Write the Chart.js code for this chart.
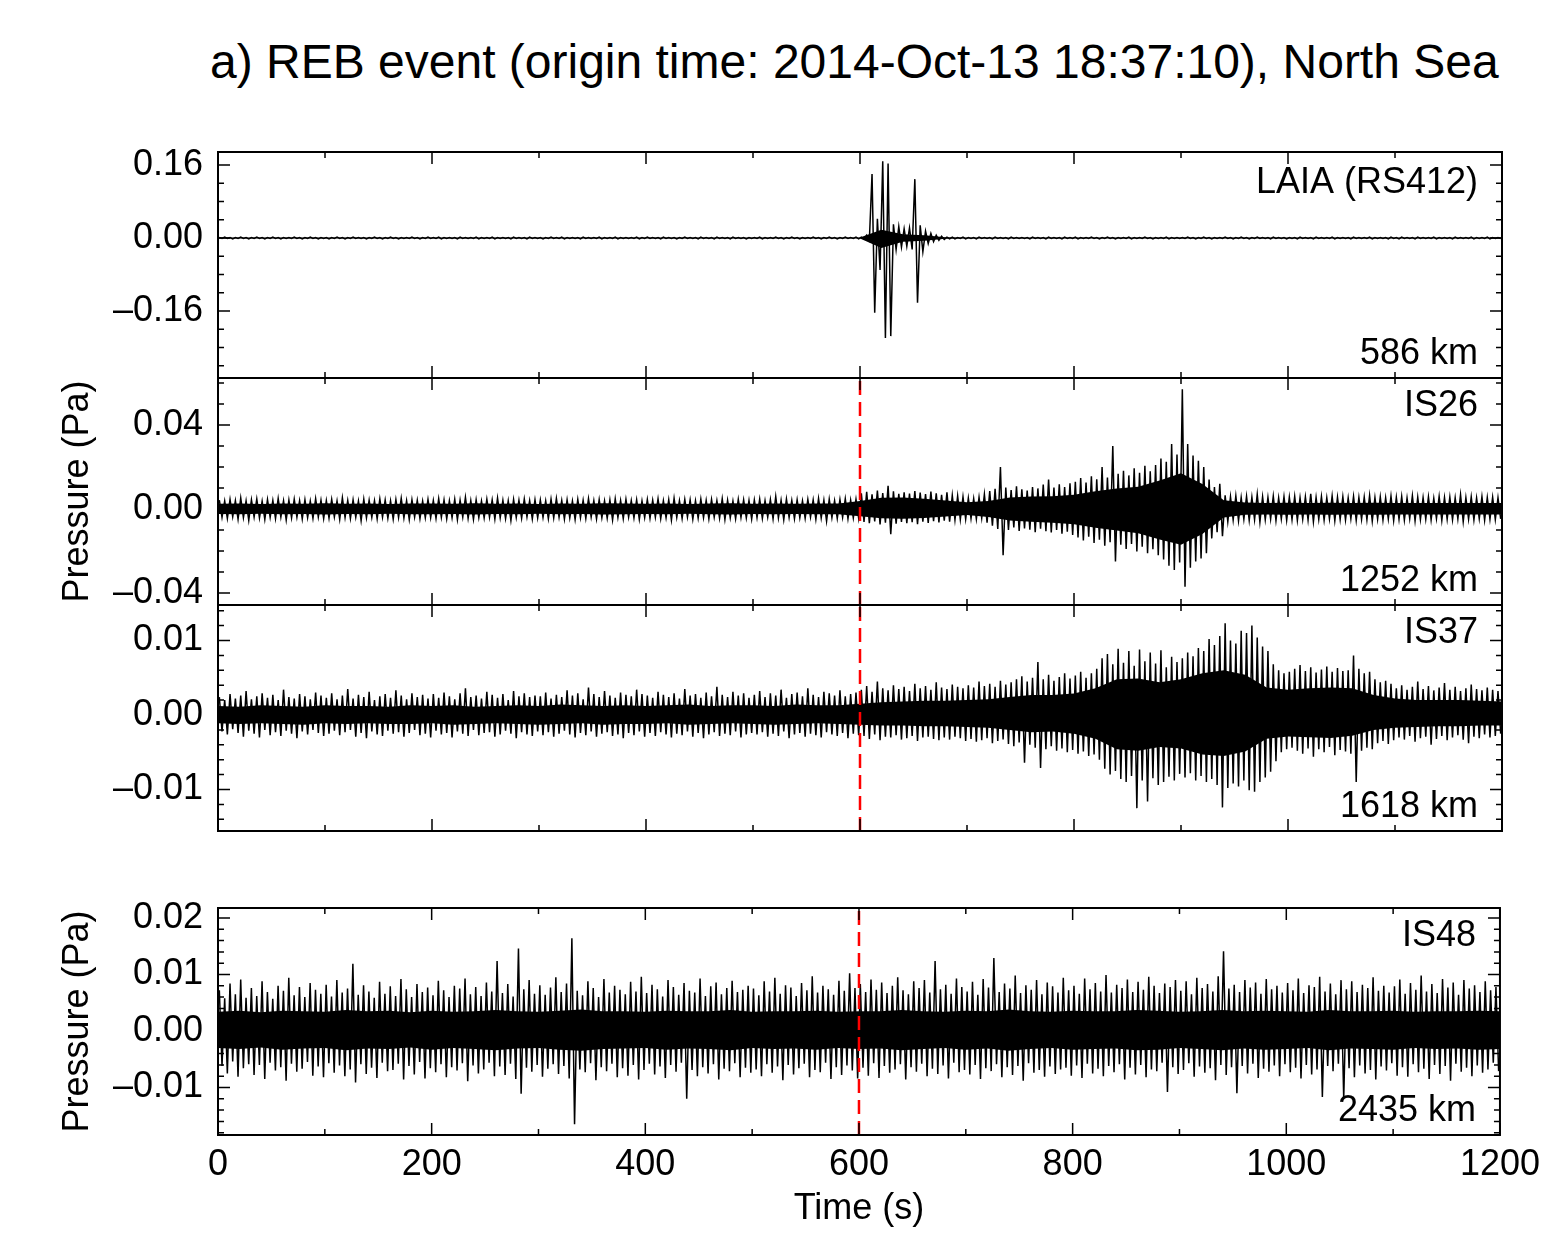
<!DOCTYPE html>
<html>
<head>
<meta charset="utf-8">
<script src="https://cdn.jsdelivr.net/npm/chart.js@4.4.1/dist/chart.umd.min.js"></script>
<style>
  html, body { margin: 0; padding: 0; background: #fff; }
  #wrap { position: relative; width: 1548px; height: 1235px; overflow: hidden; }
  #wrap canvas { position: absolute; left: 0; top: 0; }
  #title {
    position: absolute; top: 38px; left: 210px; width: 1288px;
    text-align: center; white-space: nowrap; color: #000;
    font: 48px/1 "Liberation Sans", Arial, Helvetica, sans-serif;
  }
</style>
</head>
<body>
<div id="wrap">
  <div id="title">a) REB event (origin time: 2014-Oct-13 18:37:10), North Sea</div>
  <canvas id="p0" width="1548" height="1235"></canvas>
  <canvas id="p1" width="1548" height="1235"></canvas>
  <canvas id="p2" width="1548" height="1235"></canvas>
  <canvas id="p3" width="1548" height="1235"></canvas>
</div>
<script>
// Waveform envelopes, in mPa.
// *Hi / *Lo: largest up / down excursion in each 5 s bin (0-5 s, 5-10 s, ...)
// *CoreHi / *CoreLo: edge of the solid black band, every 20 s (0, 20, ... 1200 s)
const binSeconds = 5;
const coreSeconds = 20;
const originTime = 600;   // red dashed line
const timeTicks = [0, 200, 400, 600, 800, 1000, 1200];

const stations = ['LAIA (RS412)', 'IS26', 'IS37', 'IS48'];
const distances = ['586 km', '1252 km', '1618 km', '2435 km'];
const yTickValues = [[-0.16, 0, 0.16], [-0.04, 0, 0.04], [-0.01, 0, 0.01], [-0.01, 0, 0.01, 0.02]];
const yMinorSteps = [0.04, 0.01, 0.002, 0.002];
const yRanges = [[-0.3068, 0.1885], [-0.04571, 0.06238], [-0.01557, 0.014765], [-0.01841, 0.02177]];

const laiaHi = [
  1,2,1,1,2,1,1,2,1,1,2,1,1,1,2,1,1,2,1,1,
  1,1,2,1,1,2,1,1,1,2,1,1,2,1,1,1,2,1,1,2,
  1,2,1,1,1,2,1,1,2,1,1,2,1,1,1,2,1,1,2,1,
  1,1,2,1,2,1,1,1,2,1,1,2,1,1,2,1,1,1,2,1,
  2,1,1,2,1,1,1,2,1,1,2,1,1,2,1,1,2,1,1,1,
  1,2,1,1,2,1,1,2,1,1,1,2,1,1,2,1,1,2,1,2,
  2,6,140,42,168,163,30,25,20,22,129,28,15,10,6,4,2,2,1,2,
  1,1,2,1,1,2,1,1,2,1,1,1,2,1,1,2,1,1,2,1,
  2,1,1,2,1,1,2,1,1,1,2,1,1,2,1,1,1,2,1,1,
  1,2,1,1,2,1,1,1,2,1,1,2,1,1,2,1,1,2,1,1,
  1,1,2,1,1,2,1,1,2,1,1,1,2,1,1,2,1,1,1,2,
  1,2,1,1,2,1,1,2,1,1,1,2,1,1,2,1,1,2,1,1
];
const laiaLo = [
  -1,-1,-2,-1,-1,-2,-1,-1,-2,-1,-1,-2,-1,-1,-1,-2,-1,-1,-2,-1,
  -2,-1,-1,-2,-1,-1,-1,-2,-1,-1,-2,-1,-1,-2,-1,-1,-1,-2,-1,-1,
  -1,-2,-1,-1,-2,-1,-1,-1,-2,-1,-1,-2,-1,-1,-2,-1,-1,-2,-1,-1,
  -2,-1,-1,-1,-2,-1,-1,-2,-1,-1,-1,-2,-1,-1,-2,-1,-1,-1,-2,-1,
  -1,-1,-2,-1,-1,-2,-1,-1,-1,-2,-1,-1,-2,-1,-1,-2,-1,-1,-2,-1,
  -1,-2,-1,-1,-1,-2,-1,-1,-2,-1,-1,-1,-2,-1,-1,-2,-1,-1,-1,-2,
  -2,-5,-164,-70,-219,-215,-25,-20,-18,-25,-142,-30,-12,-8,-5,-3,-2,-2,-1,-2,
  -1,-2,-1,-1,-2,-1,-1,-2,-1,-1,-1,-2,-1,-1,-2,-1,-1,-2,-1,-1,
  -2,-1,-1,-1,-2,-1,-1,-2,-1,-1,-2,-1,-1,-1,-2,-1,-1,-2,-1,-1,
  -1,-1,-2,-1,-1,-2,-1,-1,-1,-2,-1,-1,-2,-1,-1,-1,-2,-1,-1,-2,
  -1,-2,-1,-1,-2,-1,-1,-1,-2,-1,-1,-2,-1,-1,-1,-2,-1,-1,-2,-1,
  -2,-1,-1,-2,-1,-1,-1,-2,-1,-1,-2,-1,-1,-1,-2,-1,-1,-2,-1,-1
];
const laiaCoreHi = [
  1.0,1.0,1.0,1.0,1.0,1.0,1.0,1.0,1.0,1.0,
  1.0,1.0,1.0,1.0,1.0,1.0,1.0,1.0,1.0,1.0,
  1.0,1.0,1.0,1.0,1.0,1.0,1.0,1.0,1.0,1.0,
  1.0,18,8,6,1.5,1.0,1.0,1.0,1.0,1.0,
  1.0,1.0,1.0,1.0,1.0,1.0,1.0,1.0,1.0,1.0,
  1.0,1.0,1.0,1.0,1.0,1.0,1.0,1.0,1.0,1.0,
  1.0
];
const laiaCoreLo = [
  -1.0,-1.0,-1.0,-1.0,-1.0,-1.0,-1.0,-1.0,-1.0,-1.0,
  -1.0,-1.0,-1.0,-1.0,-1.0,-1.0,-1.0,-1.0,-1.0,-1.0,
  -1.0,-1.0,-1.0,-1.0,-1.0,-1.0,-1.0,-1.0,-1.0,-1.0,
  -1.0,-22,-8,-6,-1.5,-1.0,-1.0,-1.0,-1.0,-1.0,
  -1.0,-1.0,-1.0,-1.0,-1.0,-1.0,-1.0,-1.0,-1.0,-1.0,
  -1.0,-1.0,-1.0,-1.0,-1.0,-1.0,-1.0,-1.0,-1.0,-1.0,
  -1.0
];

const is26Hi = [
  4.2,3.8,4.6,4.0,5.2,3.9,4.4,4.8,3.7,4.5,4.1,5.0,3.9,4.3,4.7,4.0,4.4,3.8,4.9,4.2,
  4.0,4.6,3.9,5.3,4.1,4.4,3.8,4.7,4.2,4.0,4.8,4.3,3.9,4.5,5.1,4.0,4.4,4.2,3.8,4.6,
  4.1,4.9,4.3,3.9,4.6,4.2,5.6,4.0,4.4,3.8,4.7,4.3,5.2,4.1,3.9,4.5,4.2,4.8,4.0,4.4,
  4.3,3.9,4.7,5.0,4.1,4.4,3.8,4.6,4.2,4.9,4.0,4.5,3.9,4.3,4.8,4.1,4.6,4.0,4.4,3.8,
  4.5,4.2,4.8,3.9,4.4,5.1,4.0,4.6,4.3,3.9,4.7,4.1,4.5,4.0,4.9,4.2,3.8,4.6,4.4,4.1,
  4.3,4.7,4.0,4.5,6.0,4.2,4.8,4.1,4.4,3.9,4.6,4.3,5.0,4.2,4.7,4.0,4.5,4.9,4.2,4.6,
  7.5,8.2,7.0,8.8,7.6,11.0,8.4,7.2,8.0,7.4,8.6,7.8,7.1,8.3,7.5,6.8,7.9,6.5,6.2,5.8,
  5.2,4.9,5.6,7.0,8.5,9.6,20.0,10.2,9.0,10.8,9.4,8.8,10.5,9.8,11.6,14.0,10.2,11.8,10.4,12.2,
  13.0,14.8,12.6,15.6,14.2,20.0,15.0,30.0,16.8,18.2,16.0,19.4,17.2,20.6,18.0,21.0,24.0,22.5,31.0,26.0,
  57.0,31.0,25.5,23.0,20.0,14.0,10.5,12.0,6.5,5.8,6.2,5.4,6.0,5.6,7.0,5.8,5.5,6.1,5.3,5.9,
  5.6,6.0,5.4,5.8,7.2,5.5,5.9,5.3,6.2,5.6,5.8,5.2,6.0,5.5,5.7,6.4,5.4,5.8,5.3,6.1,
  5.5,5.9,5.2,6.3,5.6,5.4,5.8,5.1,6.0,5.5,5.7,5.3,6.8,5.4,5.8,5.2,5.9,5.5,5.6,5.3
];
const is26Lo = [
  -3.9,-4.5,-3.7,-4.8,-4.1,-5.4,-3.8,-4.3,-4.9,-4.0,-4.6,-3.8,-5.2,-4.2,-3.9,-4.7,-4.1,-4.4,-3.8,-4.6,
  -4.3,-3.8,-4.9,-4.1,-4.5,-3.9,-5.6,-4.2,-4.0,-4.7,-3.9,-4.4,-4.8,-4.0,-4.3,-5.0,-3.9,-4.6,-4.2,-4.1,
  -4.5,-4.0,-4.7,-4.2,-5.1,-3.8,-4.4,-4.9,-4.1,-4.3,-3.9,-4.8,-4.2,-4.6,-5.5,-4.0,-4.4,-3.8,-4.7,-4.2,
  -4.0,-4.6,-4.2,-3.9,-4.8,-4.3,-5.0,-4.1,-4.5,-3.8,-4.7,-4.2,-4.4,-5.2,-4.0,-4.6,-3.9,-4.3,-4.9,-4.1,
  -4.4,-3.9,-4.6,-4.2,-5.3,-4.0,-4.5,-3.8,-4.8,-4.3,-4.1,-4.7,-3.9,-4.4,-5.0,-4.2,-4.6,-4.0,-4.3,-4.8,
  -4.1,-4.5,-3.9,-4.7,-4.3,-5.1,-4.0,-4.6,-4.2,-4.4,-3.8,-4.9,-4.3,-5.8,-4.1,-4.5,-4.0,-4.7,-4.2,-4.4,
  -6.2,-6.8,-5.9,-7.4,-6.5,-12.0,-7.0,-6.1,-6.7,-6.3,-7.2,-6.0,-6.6,-5.8,-6.4,-5.5,-6.0,-5.2,-5.0,-4.8,
  -4.5,-4.8,-4.3,-6.5,-8.0,-9.5,-22.0,-10.0,-8.8,-10.5,-9.2,-9.8,-11.0,-9.4,-10.6,-11.2,-10.0,-11.8,-10.8,-12.4,
  -13.5,-15.0,-13.2,-16.2,-14.6,-17.5,-15.8,-25.0,-17.0,-19.0,-16.6,-20.2,-18.0,-21.0,-19.2,-22.0,-24.0,-27.0,-29.0,-25.5,
  -37.0,-28.0,-25.0,-23.5,-21.0,-14.0,-11.0,-13.0,-6.0,-5.2,-5.6,-4.9,-5.4,-5.0,-6.2,-5.1,-4.8,-5.5,-4.7,-5.3,
  -5.0,-5.4,-4.8,-5.2,-6.0,-4.9,-5.3,-4.7,-5.6,-5.0,-5.2,-4.6,-5.4,-4.9,-5.1,-5.8,-4.8,-5.2,-4.7,-5.5,
  -4.9,-5.3,-4.6,-5.7,-5.0,-4.8,-5.2,-4.5,-5.4,-4.9,-5.1,-4.7,-6.0,-4.8,-5.2,-4.6,-5.3,-4.9,-5.0,-4.7
];
const is26CoreHi = [
  2.5,2.6,2.4,2.6,2.5,2.7,2.5,2.6,2.4,2.6,
  2.6,2.5,2.7,2.5,2.6,2.4,2.6,2.5,2.7,2.6,
  2.5,2.6,2.4,2.6,2.7,2.5,2.6,2.5,2.6,2.6,
  3.8,5.3,5.5,4.9,4.1,3.2,3.8,5.5,6.0,6.1,
  6.8,8.5,9.8,10.6,13.6,17.0,11.9,4.2,3.1,2.9,
  3.0,2.9,3.0,2.8,3.0,2.9,2.8,2.9,2.8,2.9,
  2.8
];
const is26CoreLo = [
  -2.4,-2.5,-2.3,-2.5,-2.4,-2.6,-2.4,-2.5,-2.3,-2.5,
  -2.5,-2.4,-2.6,-2.4,-2.5,-2.3,-2.5,-2.4,-2.6,-2.5,
  -2.4,-2.5,-2.3,-2.5,-2.6,-2.4,-2.5,-2.4,-2.5,-2.5,
  -3.4,-4.4,-4.7,-4.3,-3.6,-2.9,-3.8,-5.5,-6.1,-6.5,
  -7.2,-8.9,-10.2,-11.5,-14.5,-17.0,-11.9,-4.1,-2.7,-2.6,
  -2.7,-2.6,-2.7,-2.6,-2.7,-2.6,-2.6,-2.6,-2.6,-2.6,
  -2.6
];

const is37Hi = [
  2.4,2.0,2.8,2.2,2.6,3.2,2.1,2.5,2.9,2.3,2.7,2.0,3.4,2.4,2.2,2.8,2.5,2.1,3.0,2.6,
  2.3,2.9,2.1,2.6,3.5,2.2,2.7,2.4,3.1,2.0,2.5,2.8,2.3,3.3,2.6,2.1,2.9,2.4,2.7,2.2,
  2.8,2.3,3.0,2.5,2.1,2.9,3.6,2.4,2.6,2.2,3.1,2.7,2.3,2.8,2.0,3.2,2.5,2.9,2.4,2.6,
  2.5,3.0,2.2,2.7,2.4,3.3,2.6,2.9,2.1,3.7,2.8,2.4,3.2,2.6,2.3,3.0,2.7,2.5,3.4,2.8,
  2.6,2.3,3.1,2.7,2.4,2.9,2.2,3.5,2.6,2.8,2.3,3.0,2.5,3.8,2.7,2.4,3.1,2.6,2.9,2.3,
  2.7,3.2,2.4,2.9,2.6,3.4,2.3,2.8,3.0,2.5,3.6,2.7,2.4,3.1,2.9,2.6,3.3,2.5,2.8,3.0,
  3.4,3.9,3.1,4.5,3.6,3.3,4.0,3.5,3.8,3.2,4.2,3.6,3.9,3.4,4.4,3.7,3.5,4.1,3.8,3.6,
  4.0,3.7,4.5,3.9,4.2,3.8,4.6,4.1,4.4,4.8,5.2,4.5,5.0,7.1,4.8,5.4,4.6,5.1,5.6,4.9,
  5.3,5.8,5.0,5.6,6.2,7.6,8.2,6.8,8.9,7.0,8.6,6.6,8.8,7.2,8.4,6.9,8.7,6.4,7.8,7.1,
  7.6,8.4,7.9,9.0,8.6,10.2,9.4,10.6,12.3,10.0,9.6,11.3,11.0,12.0,10.4,9.2,8.6,6.8,6.0,5.6,
  5.8,6.2,6.7,5.9,6.4,5.7,6.1,6.5,5.8,6.3,5.9,6.0,8.0,6.2,5.6,5.8,4.8,4.4,4.6,4.2,
  3.6,4.0,3.4,3.8,4.5,3.5,3.9,3.3,3.7,4.3,3.4,3.8,3.2,3.6,4.1,3.5,3.3,3.7,3.4,3.2
];
const is37Lo = [
  -2.2,-2.6,-1.9,-2.4,-2.9,-2.1,-2.5,-3.0,-2.0,-2.7,-2.3,-2.8,-2.1,-2.5,-3.1,-2.2,-2.6,-2.0,-2.4,-2.8,
  -2.5,-2.1,-2.7,-2.3,-2.0,-2.9,-2.4,-3.1,-2.2,-2.6,-2.8,-2.1,-2.5,-2.3,-2.9,-2.4,-2.0,-2.7,-2.5,-3.0,
  -2.1,-2.6,-2.4,-3.0,-2.2,-2.5,-2.8,-2.0,-2.7,-2.4,-2.3,-2.9,-2.6,-2.1,-2.5,-3.1,-2.3,-2.6,-2.8,-2.2,
  -2.7,-2.3,-2.9,-2.5,-2.1,-2.6,-3.0,-2.4,-2.7,-2.2,-2.9,-2.5,-2.3,-2.8,-2.6,-3.1,-2.4,-2.7,-2.2,-2.9,
  -2.4,-2.8,-2.3,-2.6,-3.0,-2.5,-2.7,-2.2,-2.9,-2.4,-3.1,-2.6,-2.3,-2.8,-2.5,-2.7,-2.2,-3.0,-2.6,-2.4,
  -2.6,-2.3,-2.9,-2.5,-2.8,-2.2,-3.1,-2.6,-2.4,-2.9,-2.5,-2.7,-3.0,-2.3,-2.6,-2.8,-2.4,-3.1,-2.5,-2.7,
  -2.8,-3.2,-2.6,-3.4,-2.9,-3.0,-2.7,-3.3,-3.1,-2.8,-3.5,-3.0,-2.9,-3.2,-3.4,-3.0,-3.3,-2.9,-3.1,-3.5,
  -3.2,-3.6,-3.4,-3.1,-3.8,-3.5,-3.3,-3.9,-4.2,-3.7,-6.4,-4.0,-4.4,-7.1,-4.6,-4.2,-4.8,-4.5,-5.0,-4.7,
  -5.2,-4.9,-5.5,-5.3,-6.0,-7.2,-8.0,-7.5,-8.6,-9.0,-8.2,-12.5,-8.8,-11.6,-8.5,-9.4,-9.0,-8.3,-8.8,-7.9,
  -8.4,-7.8,-8.8,-8.2,-9.0,-8.6,-9.4,-12.4,-9.8,-9.2,-9.6,-8.8,-10.1,-10.3,-9.0,-8.4,-7.6,-6.2,-5.0,-4.6,
  -4.4,-4.8,-5.2,-4.5,-5.6,-4.6,-5.0,-4.3,-5.4,-4.7,-4.9,-5.2,-9.0,-4.8,-4.4,-4.6,-3.8,-3.5,-3.9,-3.4,
  -3.0,-3.3,-2.8,-3.6,-3.1,-2.9,-4.0,-3.2,-2.8,-3.4,-3.0,-2.7,-3.3,-3.8,-2.9,-3.1,-2.6,-3.0,-2.8,-2.5
];
const is37CoreHi = [
  1.2,1.1,1.3,1.2,1.1,1.3,1.2,1.2,1.1,1.3,
  1.2,1.3,1.1,1.2,1.3,1.2,1.4,1.3,1.2,1.3,
  1.2,1.3,1.4,1.2,1.3,1.3,1.2,1.4,1.3,1.3,
  1.5,1.7,1.8,1.9,1.9,2.0,2.1,2.4,2.7,2.7,
  2.9,3.6,4.8,4.9,4.4,4.8,5.6,6.0,5.4,3.7,
  3.4,3.6,3.7,3.6,2.7,2.2,2.0,2.0,2.0,1.9,
  1.8
];
const is37CoreLo = [
  -1.1,-1.2,-1.1,-1.2,-1.3,-1.1,-1.2,-1.1,-1.2,-1.2,
  -1.1,-1.3,-1.2,-1.1,-1.2,-1.3,-1.2,-1.1,-1.3,-1.2,
  -1.2,-1.1,-1.3,-1.2,-1.1,-1.2,-1.3,-1.2,-1.1,-1.2,
  -1.3,-1.4,-1.4,-1.5,-1.5,-1.6,-1.7,-2.0,-2.3,-2.2,
  -2.5,-3.2,-4.6,-4.8,-4.3,-4.5,-5.3,-5.5,-4.9,-3.2,
  -2.9,-3.0,-3.1,-2.8,-2.0,-1.7,-1.6,-1.5,-1.5,-1.4,
  -1.4
];

const is48Hi = [
  7.2,5.8,8.4,6.5,9.1,5.9,7.6,6.2,8.8,6.9,5.7,8.0,7.1,9.4,6.3,7.8,6.0,8.5,7.3,6.6,
  8.2,6.1,9.0,6.8,7.5,11.9,6.4,8.1,7.0,5.9,8.7,6.6,7.9,6.2,9.2,7.4,6.0,8.3,6.9,7.7,
  6.3,8.9,7.2,6.0,8.0,7.5,9.3,6.5,7.8,6.2,8.6,7.0,12.4,6.7,8.3,6.1,14.6,7.4,9.0,6.6,
  8.1,6.4,7.7,9.5,6.9,8.4,16.4,7.1,6.3,8.8,7.6,6.0,9.2,6.8,8.0,7.3,6.5,8.7,7.0,9.6,
  6.7,8.2,7.4,6.1,9.0,7.8,6.4,8.5,7.1,6.8,9.3,6.2,7.9,8.6,6.5,7.6,8.9,6.9,7.3,8.0,
  7.5,6.3,8.8,7.0,9.4,6.6,8.1,7.7,6.2,8.5,7.2,9.7,6.8,8.0,7.4,6.4,8.9,7.1,10.2,7.6,
  8.3,6.9,9.1,7.3,8.6,6.7,8.0,9.5,7.2,6.5,8.8,7.6,9.0,6.8,12.4,7.4,8.2,6.6,9.3,7.8,
  7.0,8.7,6.4,9.2,7.7,12.9,6.9,8.4,7.5,9.8,6.7,8.1,7.3,9.0,6.5,8.6,7.9,6.8,9.4,7.2,
  8.0,6.6,9.3,7.4,8.5,7.0,9.9,6.8,8.2,7.6,9.1,6.9,8.7,7.3,9.6,8.0,6.7,8.4,7.8,9.0,
  7.1,8.8,6.5,9.4,7.6,8.3,7.0,9.7,14.1,7.5,8.2,6.9,9.0,7.7,8.6,6.6,9.2,7.4,8.0,6.8,
  8.5,7.2,9.3,6.7,8.1,7.8,9.6,7.0,8.4,6.5,9.0,7.4,8.8,6.9,8.2,7.6,9.5,7.1,8.0,6.8,
  7.9,9.1,6.6,8.5,7.3,9.8,7.0,8.3,6.7,9.2,7.7,8.6,6.4,9.0,7.5,8.1,6.9,8.8,7.2,7.8
];
const is48Lo = [
  -6.2,-7.5,-5.4,-8.1,-6.6,-5.9,-7.8,-6.0,-8.5,-5.6,-7.0,-6.4,-8.8,-5.8,-7.2,-6.7,-5.5,-7.9,-6.3,-8.2,
  -5.7,-7.4,-6.1,-8.0,-6.8,-9.1,-5.9,-7.6,-6.5,-8.3,-5.6,-7.1,-6.9,-5.8,-8.6,-6.2,-7.7,-5.5,-8.4,-6.6,
  -7.3,-5.9,-8.2,-6.4,-7.0,-5.7,-8.9,-6.1,-7.5,-6.8,-5.6,-8.0,-6.3,-7.8,-5.8,-8.5,-11.1,-6.5,-7.2,-6.0,
  -8.1,-6.7,-5.9,-7.6,-6.2,-8.4,-16.5,-6.8,-7.3,-5.7,-8.7,-6.4,-7.1,-5.8,-8.2,-6.6,-7.9,-6.0,-8.6,-6.9,
  -5.8,-7.7,-6.3,-8.3,-6.0,-7.2,-5.6,-12.0,-6.9,-8.0,-6.4,-7.5,-5.9,-8.6,-6.7,-7.1,-5.7,-8.2,-6.5,-7.4,
  -6.8,-8.0,-5.9,-7.4,-6.3,-8.7,-6.0,-7.7,-6.6,-5.8,-8.2,-6.9,-7.3,-5.6,-8.5,-6.4,-7.8,-6.1,-7.0,-8.4,
  -6.5,-7.9,-5.7,-8.3,-6.2,-7.4,-6.8,-5.9,-8.6,-6.4,-7.2,-5.8,-8.0,-6.7,-7.6,-6.1,-8.4,-5.6,-7.3,-6.9,
  -7.7,-6.0,-8.5,-6.6,-7.1,-5.9,-8.2,-6.4,-7.8,-6.2,-8.8,-5.7,-7.4,-6.9,-8.1,-6.3,-7.6,-6.8,-6.5,-7.9,
  -6.1,-8.3,-5.8,-7.5,-6.7,-8.0,-6.2,-7.3,-5.9,-8.6,-6.5,-7.7,-6.0,-8.2,-6.8,-7.1,-5.6,-10.8,-6.4,-7.6,
  -6.9,-5.7,-8.1,-6.3,-7.4,-6.6,-8.7,-6.0,-7.8,-6.4,-11.0,-6.2,-7.5,-5.8,-8.3,-6.7,-7.2,-6.1,-8.0,-5.9,
  -7.3,-6.5,-8.4,-6.0,-7.7,-6.8,-11.7,-6.2,-7.1,-5.8,-12.0,-6.6,-8.2,-6.1,-7.5,-6.9,-8.6,-6.3,-7.0,-5.7,
  -7.9,-6.4,-8.1,-5.9,-7.3,-6.7,-8.5,-6.0,-7.6,-6.2,-8.8,-5.8,-7.2,-6.5,-8.0,-6.1,-7.4,-6.8,-5.6,-7.1
];
const is48CoreHi = [
  3.4,3.6,3.3,3.6,3.5,3.4,3.7,3.5,3.6,3.3,
  3.6,3.4,3.5,3.7,3.5,3.4,3.6,3.8,3.5,3.5,
  3.4,3.6,3.5,3.5,3.7,3.4,3.5,3.5,3.6,3.4,
  3.5,3.5,3.7,3.5,3.4,3.6,3.5,3.8,3.5,3.4,
  3.6,3.5,3.5,3.7,3.6,3.4,3.5,3.7,3.5,3.6,
  3.5,3.4,3.7,3.5,3.5,3.6,3.4,3.5,3.5,3.6,
  3.5
];
const is48CoreLo = [
  -3.0,-3.2,-2.9,-3.3,-3.1,-3.0,-3.4,-3.1,-3.2,-2.9,
  -3.3,-3.0,-3.2,-3.4,-3.1,-3.0,-3.3,-3.5,-3.2,-3.1,
  -3.0,-3.3,-3.1,-3.2,-3.4,-3.0,-3.2,-3.1,-3.3,-3.0,
  -3.2,-3.1,-3.4,-3.2,-3.0,-3.3,-3.1,-3.5,-3.2,-3.0,
  -3.3,-3.2,-3.1,-3.4,-3.3,-3.0,-3.2,-3.4,-3.1,-3.3,
  -3.2,-3.0,-3.4,-3.1,-3.2,-3.3,-3.0,-3.2,-3.1,-3.3,
  -3.2
];

const traces = [
  { hi: laiaHi, lo: laiaLo, coreHi: laiaCoreHi, coreLo: laiaCoreLo },
  { hi: is26Hi, lo: is26Lo, coreHi: is26CoreHi, coreLo: is26CoreLo },
  { hi: is37Hi, lo: is37Lo, coreHi: is37CoreHi, coreLo: is37CoreLo },
  { hi: is48Hi, lo: is48Lo, coreHi: is48CoreHi, coreLo: is48CoreLo }
];

// page layout of the four plot boxes (px)
const boxes = [
  { top: 152, bottom: 378, labelDy: 31 },
  { top: 378, bottom: 605, labelDy: 28 },
  { top: 605, bottom: 831, labelDy: 28 },
  { top: 908, bottom: 1135, labelDy: 28 }
];
const PAGE_H = 1235, AXIS_W = 218, RIGHT_PAD = 46;
const FONT = '"Liberation Sans", Arial, Helvetica, sans-serif';

Chart.defaults.font.family = FONT;
Chart.defaults.font.size = 36;
Chart.defaults.color = '#000';

// alternate up/down excursions through each bin so it reads as a dense trace
function zigzag(hi, lo) {
  const pts = [];
  hi.forEach((h, i) => {
    pts.push({ x: i * binSeconds + binSeconds * 0.25, y: h / 1000 });
    pts.push({ x: i * binSeconds + binSeconds * 0.75, y: lo[i] / 1000 });
  });
  return pts;
}
function corePoints(vals) {
  return vals.map((v, j) => ({ x: j * coreSeconds, y: v / 1000 }));
}
function fmtPa(v) {
  return (v < 0 ? '\u2013' : '') + Math.abs(v).toFixed(2);
}

const framePlugin = {
  id: 'frame',
  afterDatasetsDraw(chart, args, opts) {
    const { ctx, chartArea: a, scales: { x, y } } = chart;
    ctx.save();
    ctx.strokeStyle = '#000';
    ctx.lineWidth = 1.5;
    ctx.beginPath();
    // time ticks, top and bottom, pointing inwards
    for (let t = 0; t <= 1200; t += 100) {
      const px = x.getPixelForValue(t);
      const len = t % 200 === 0 ? 12 : 6;
      ctx.moveTo(px, a.top); ctx.lineTo(px, a.top + len);
      ctx.moveTo(px, a.bottom); ctx.lineTo(px, a.bottom - len);
    }
    // pressure ticks, left and right
    const step = opts.minor;
    for (let k = Math.ceil(y.min / step); k * step <= y.max; k++) {
      const v = k * step;
      const py = y.getPixelForValue(v);
      const major = opts.major.some(m => Math.abs(m - v) < step / 10);
      const len = major ? 12 : 6;
      ctx.moveTo(a.left, py); ctx.lineTo(a.left + len, py);
      ctx.moveTo(a.right, py); ctx.lineTo(a.right - len, py);
    }
    ctx.stroke();
    ctx.lineWidth = 2;
    ctx.strokeRect(a.left, a.top, a.right - a.left, a.bottom - a.top);

    ctx.fillStyle = '#000';
    ctx.font = '36px ' + FONT;
    ctx.textAlign = 'right';
    ctx.textBaseline = 'middle';
    ctx.fillText(opts.station, a.right - 24, a.top + opts.labelDy);
    ctx.fillText(opts.distance, a.right - 24, a.bottom - 24);
    ctx.restore();
  }
};

boxes.forEach((box, i) => {
  const tr = traces[i];
  const [yMin, yMax] = yRanges[i];
  const last = i === boxes.length - 1;
  const datasets = [];
  if (i > 0) {
    datasets.push({
      data: [{ x: originTime, y: yMin }, { x: originTime, y: yMax }],
      borderColor: '#ff0000', borderWidth: 2.5, borderDash: [14, 7],
      pointRadius: 0, fill: false
    });
  }
  datasets.push({
    data: zigzag(tr.hi, tr.lo),
    borderColor: '#000', borderWidth: 1.5, pointRadius: 0, fill: false, tension: 0
  });
  datasets.push({
    data: corePoints(tr.coreHi),
    borderWidth: 0, pointRadius: 0, backgroundColor: '#000', fill: '+1'
  });
  datasets.push({
    data: corePoints(tr.coreLo),
    borderWidth: 0, pointRadius: 0, fill: false
  });

  new Chart(document.getElementById('p' + i), {
    type: 'line',
    data: { datasets },
    options: {
      responsive: false,
      animation: false,
      events: [],
      layout: {
        padding: { left: 0, right: RIGHT_PAD, top: box.top, bottom: last ? 0 : PAGE_H - box.bottom }
      },
      plugins: {
        legend: { display: false },
        tooltip: { enabled: false },
        frame: {
          station: stations[i], distance: distances[i],
          major: yTickValues[i], minor: yMinorSteps[i], labelDy: box.labelDy
        }
      },
      scales: {
        x: {
          type: 'linear', min: 0, max: 1200,
          display: last,
          grid: { display: false, drawTicks: false },
          border: { display: false },
          ticks: { padding: 8, maxRotation: 0, autoSkip: false, font: { size: 36 }, callback: v => String(v) },
          afterBuildTicks: s => { s.ticks = timeTicks.map(v => ({ value: v })); },
          afterFit: s => { s.height = last ? PAGE_H - box.bottom : 0; },
          title: { display: last, text: 'Time (s)', font: { size: 36 }, padding: { top: 0, bottom: 4 } }
        },
        y: {
          type: 'linear', min: yMin, max: yMax,
          grid: { display: false, drawTicks: false },
          border: { display: false },
          ticks: { padding: 15, autoSkip: false, font: { size: 36 }, callback: v => fmtPa(v) },
          afterBuildTicks: s => { s.ticks = yTickValues[i].map(v => ({ value: v })); },
          afterFit: s => { s.width = AXIS_W; },
          title: {
            display: i === 1 || i === 3, text: 'Pressure (Pa)',
            font: { size: 36 }, padding: { top: 56, bottom: 0 }
          }
        }
      }
    },
    plugins: [framePlugin]
  });
});
</script>
</body>
</html>
